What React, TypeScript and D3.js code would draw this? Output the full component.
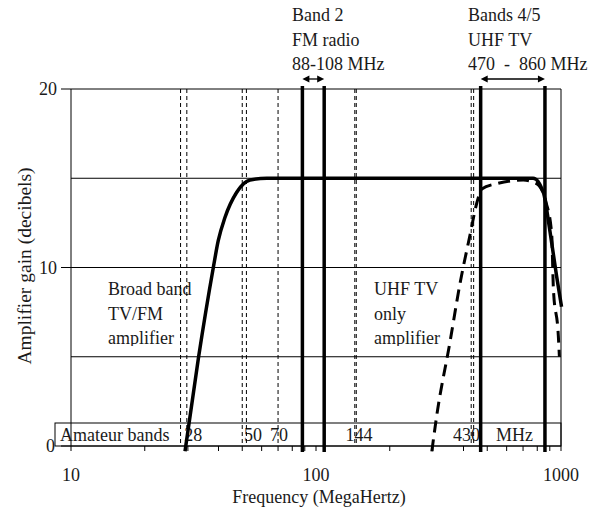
import React from "react";
import * as d3 from "d3";

// ---- data ----
const broadbandFreq = [29.2, 33.1, 38.1, 39.9, 42.5, 47.4, 53.8, 63, 770, 847, 902, 960, 1005];
const broadbandGain = [-0.3, 4.9, 10.0, 11.5, 12.8, 14.2, 14.9, 15, 15, 14.2, 12, 9.5, 7.8];
const uhfFreq = [297, 311, 352, 387, 425, 453, 475, 547, 701, 795, 871, 916, 931, 975, 985];
const uhfGain = [-0.3, 1.7, 5.8, 9.1, 11.8, 13.6, 14.4, 14.7, 14.9, 14.7, 13.6, 11.9, 8.8, 6.2, 5];
const amateurBandEdges = [28, 29.7, 50, 52, 70, 144, 146, 430, 440];
const bandLines = [88, 108, 470, 860];
const gainGrid = [5, 10, 15, 20];
const gainTicks = [0, 10, 20];
const freqTicks = [10, 100, 1000];
const minorFreqTicks = [10, 20, 30, 40, 50, 60, 70, 80, 90, 100, 200, 300, 400, 500, 600, 700, 800, 900, 1000];
const amateurLabels = ["Amateur bands", "28", "50", "70", "144", "430", "MHz"];
const amateurLabelFreq = [9.02, 29.0, 50.8, 64.9, 132, 362, 543];

const W = 593, H = 508;
const fontStyle = { fontFamily: '"Liberation Serif"' };
const FS = 18;

export default function App() {
  const x = d3.scaleLog().domain([10, 1000]).range([71, 561]);
  const y = d3.scaleLinear().domain([0, 20]).range([446, 89]);
  const line = d3.line<[number, number]>()
    .x((d) => x(d[0]))
    .y((d) => y(d[1]))
    .curve(d3.curveMonotoneX);
  const bb = broadbandFreq.map((f, i) => [f, broadbandGain[i]] as [number, number]);
  const uhf = uhfFreq.map((f, i) => [f, uhfGain[i]] as [number, number]);
  const x0 = x(10), x1 = x(1000);
  const txt = "#1a1a1a";

  const arrow = (xa: number, xb: number, yy: number) => {
    const hs = 6, hw = 3.5;
    return (
      <g>
        <line x1={xa + hs} x2={xb - hs} y1={yy} y2={yy} stroke="#000" strokeWidth={1.3} />
        <path d={`M${xa},${yy}L${xa + hs + 1},${yy - hw}L${xa + hs + 1},${yy + hw}Z`} fill="#000" />
        <path d={`M${xb},${yy}L${xb - hs - 1},${yy - hw}L${xb - hs - 1},${yy + hw}Z`} fill="#000" />
      </g>
    );
  };

  return (
    <svg width={W} height={H} style={{ position: "absolute", left: 0, top: 0, background: "#fff" }}>
      <rect x={0} y={0} width={W} height={H} fill="#fff" />
      <defs>
        <clipPath id="lblL"><rect x={100} y={275} width={95} height={71} /></clipPath>
        <clipPath id="lblR"><rect x={370} y={275} width={80} height={71} /></clipPath>
      </defs>

      {/* grid lines */}
      {gainGrid.map((g) => (
        <line key={g} x1={x0} x2={x1} y1={y(g)} y2={y(g)} stroke="#000" strokeWidth={1} />
      ))}
      {/* frame */}
      <line x1={x0} x2={x0} y1={y(20)} y2={y(0)} stroke="#000" />
      <line x1={x1} x2={x1} y1={y(20)} y2={y(0)} stroke="#000" />

      {/* amateur band box */}
      <rect x={55} y={423} width={x1 - 55} height={y(0) - 423} fill="none" stroke="#000" strokeWidth={1} />

      {/* labels inside plot */}
      <g fontSize={FS} fill={txt} clipPath="url(#lblL)" style={fontStyle}>
        <text x={108} y={295}>Broad band</text>
        <text x={108} y={320}>TV/FM</text>
        <text x={108} y={344}>amplifier</text>
      </g>
      <g fontSize={FS} fill={txt} clipPath="url(#lblR)" style={fontStyle}>
        <text x={374} y={295}>UHF TV</text>
        <text x={374} y={320}>only</text>
        <text x={374} y={344}>amplifier</text>
      </g>

      {/* amateur band labels */}
      <g fontSize={FS} fill={txt} style={fontStyle}>
        {amateurLabels.map((l, i) => (
          <text key={l} x={x(amateurLabelFreq[i])} y={441}>{l}</text>
        ))}
      </g>

      {/* amateur band dashed lines */}
      {amateurBandEdges.map((f) => (
        <line key={f} x1={x(f)} x2={x(f)} y1={y(20)} y2={y(0)} stroke="#000" strokeWidth={1} strokeDasharray="4,3" />
      ))}

      {/* x axis */}
      <line x1={x0} x2={x1} y1={y(0)} y2={y(0)} stroke="#000" />
      {minorFreqTicks.map((f) => (
        <line key={f} x1={x(f)} x2={x(f)} y1={y(0)} y2={y(0) + 5} stroke="#000" />
      ))}
      <g fontSize={FS} fill={txt} textAnchor="middle" style={fontStyle}>
        {freqTicks.map((f) => (
          <text key={f} x={x(f)} y={481}>{f}</text>
        ))}
        <text x={319} y={503}>Frequency (MegaHertz)</text>
      </g>

      {/* y axis */}
      {gainTicks.map((g) => (
        <line key={g} x1={61} x2={x0} y1={y(g)} y2={y(g)} stroke="#000" />
      ))}
      <g fontSize={FS} fill={txt} textAnchor="end" style={fontStyle}>
        {gainTicks.map((g) => (
          <text key={g} x={g === 0 ? 55 : 57} y={y(g) + 6}>{g}</text>
        ))}
      </g>
      <text transform={`translate(31,266) rotate(-90)`} textAnchor="middle" fontSize={19.5} fill={txt} style={fontStyle}>
        Amplifier gain (decibels)
      </text>

      {/* band boundary thick lines */}
      {bandLines.map((f) => (
        <line key={f} x1={x(f)} x2={x(f)} y1={86} y2={452} stroke="#000" strokeWidth={3.5} />
      ))}

      {/* curves */}
      <path d={line(uhf) || ""} fill="none" stroke="#000" strokeWidth={3} strokeDasharray="12,7" />
      <path d={line(bb) || ""} fill="none" stroke="#000" strokeWidth={3.5} strokeLinejoin="round" />

      {/* top annotations */}
      <g fontSize={FS} fill={txt} style={fontStyle}>
        <text x={292} y={21}>Band 2</text>
        <text x={292} y={46}>FM radio</text>
        <text x={292} y={70}>88-108 MHz</text>
        <text x={468} y={21}>Bands 4/5</text>
        <text x={468} y={46}>UHF TV</text>
        <text x={468} y={70} style={{ whiteSpace: "pre" }}>470  -  860 MHz</text>
      </g>
      {arrow(x(88), x(108), 79)}
      {arrow(x(470), x(860), 79)}
    </svg>
  );
}
